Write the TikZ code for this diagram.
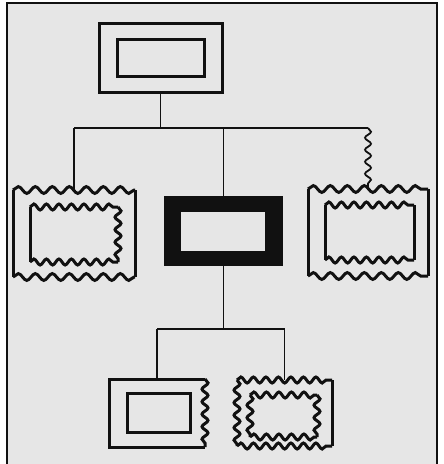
\documentclass[tikz,border=0pt]{standalone}
\usetikzlibrary{decorations.pathmorphing}
\definecolor{Ink}{HTML}{111111}
\definecolor{Paper}{HTML}{E6E6E6}

\tikzset{
  boxarea/.style={rectangle,inner sep=0pt,outer sep=0pt,draw=none},
  boxline/.style={Ink,line width=3pt},
  wireline/.style={Ink,line width=1.8pt},
  wavy/.style={boxline,decorate,decoration={snake,segment length=17pt,amplitude=3.4pt}},
  wavysmall/.style={boxline,decorate,decoration={snake,segment length=12.5pt,amplitude=3pt}},
  wavywire/.style={wireline,decorate,decoration={snake,segment length=12pt,amplitude=3pt}}
}

\begin{document}
\begin{tikzpicture}[x=1pt,y=-1pt]
\useasboundingbox (0,0) rectangle (444,464);
\fill[Paper] (7,3) rectangle (437,464);
\draw[Ink,line width=2pt] (7,464) -- (7,3) -- (437,3) -- (437,464);
% boxes
\node[boxarea,minimum width=123pt,minimum height=69pt] (top) at (160.5,57.5) {};
\node[boxarea,minimum width=87pt,minimum height=37pt] (topin) at (160.5,57.5) {};
\node[boxarea,minimum width=122pt,minimum height=87pt] (left) at (74,233.5) {};
\node[boxarea,minimum width=88pt,minimum height=55pt] (leftin) at (74,234.5) {};
\node[boxarea,fill=Ink,minimum width=119pt,minimum height=70pt] (mid) at (223.5,231) {};
\node[boxarea,fill=Paper,minimum width=84pt,minimum height=39pt] (midin) at (223,231.5) {};
\node[boxarea,minimum width=120pt,minimum height=87pt] (right) at (368,232.5) {};
\node[boxarea,minimum width=89pt,minimum height=55pt] (rightin) at (369.5,232.5) {};
\node[boxarea,minimum width=96pt,minimum height=68pt] (lowleft) at (157,413) {};
\node[boxarea,minimum width=63pt,minimum height=39pt] (lowleftin) at (158.5,412.5) {};
\node[boxarea,minimum width=95pt,minimum height=66pt] (lowright) at (284.5,413) {};
\node[boxarea,minimum width=67pt,minimum height=42pt] (lowrightin) at (283.5,416) {};
% bus points
\coordinate (busL) at (74,128);
\coordinate (busR) at (368,128);
\coordinate (lowL) at (157,329);
\coordinate (lowR) at (284.5,329);
% top box
\draw[boxline] (top.north west) rectangle (top.south east);
\draw[boxline] (topin.north west) rectangle (topin.south east);
% left box
\draw[wavy] (left.north west) -- (left.north east);
\draw[wavy] (left.south west) -- (left.south east);
\draw[boxline] (left.north west) -- (left.south west);
\draw[boxline] (left.north east) -- (left.south east);
\draw[wavysmall] (leftin.north west) -- (leftin.north east);
\draw[wavysmall] (leftin.south west) -- (leftin.south east);
\draw[wavysmall] (leftin.north east) -- (leftin.south east);
\draw[boxline] (leftin.north west) -- (leftin.south west);
% right box
\draw[wavy] (right.north west) -- (right.north east);
\draw[wavy] (right.south west) -- (right.south east);
\draw[boxline] (right.north west) -- (right.south west);
\draw[boxline] (right.north east) -- (right.south east);
\draw[wavysmall] (rightin.north west) -- (rightin.north east);
\draw[wavysmall] (rightin.south west) -- (rightin.south east);
\draw[boxline] (rightin.north west) -- (rightin.south west);
\draw[boxline] (rightin.north east) -- (rightin.south east);
% lower left box
\draw[boxline] (lowleft.north east) -- (lowleft.north west) -- (lowleft.south west) -- (lowleft.south east);
\draw[wavysmall] (lowleft.north east) -- (lowleft.south east);
\draw[boxline] (lowleftin.north west) rectangle (lowleftin.south east);
% lower right box
\draw[wavysmall] (lowright.north west) -- (lowright.north east);
\draw[wavysmall] (lowright.south west) -- (lowright.south east);
\draw[wavysmall] (lowright.north west) -- (lowright.south west);
\draw[boxline] (lowright.north east) -- (lowright.south east);
\draw[wavysmall] (lowrightin.north west) -- (lowrightin.north east);
\draw[wavysmall] (lowrightin.south west) -- (lowrightin.south east);
\draw[wavysmall] (lowrightin.north west) -- (lowrightin.south west);
\draw[wavysmall] (lowrightin.north east) -- (lowrightin.south east);
% connectors
\draw[wireline] (top.south) -- (top.south |- busL);
\draw[wireline] (busL) -- (busR);
\draw[wireline] (busL) -- (left.north);
\draw[wireline] (mid.north |- busL) -- (mid.north);
\draw[wavywire] (busR) -- (right.north);
\draw[wireline] (mid.south) -- (mid.south |- lowL);
\draw[wireline] (lowL) -- (lowR);
\draw[wireline] (lowL) -- (lowleft.north);
\draw[wireline] (lowR) -- (lowright.north);
\end{tikzpicture}
\end{document}
